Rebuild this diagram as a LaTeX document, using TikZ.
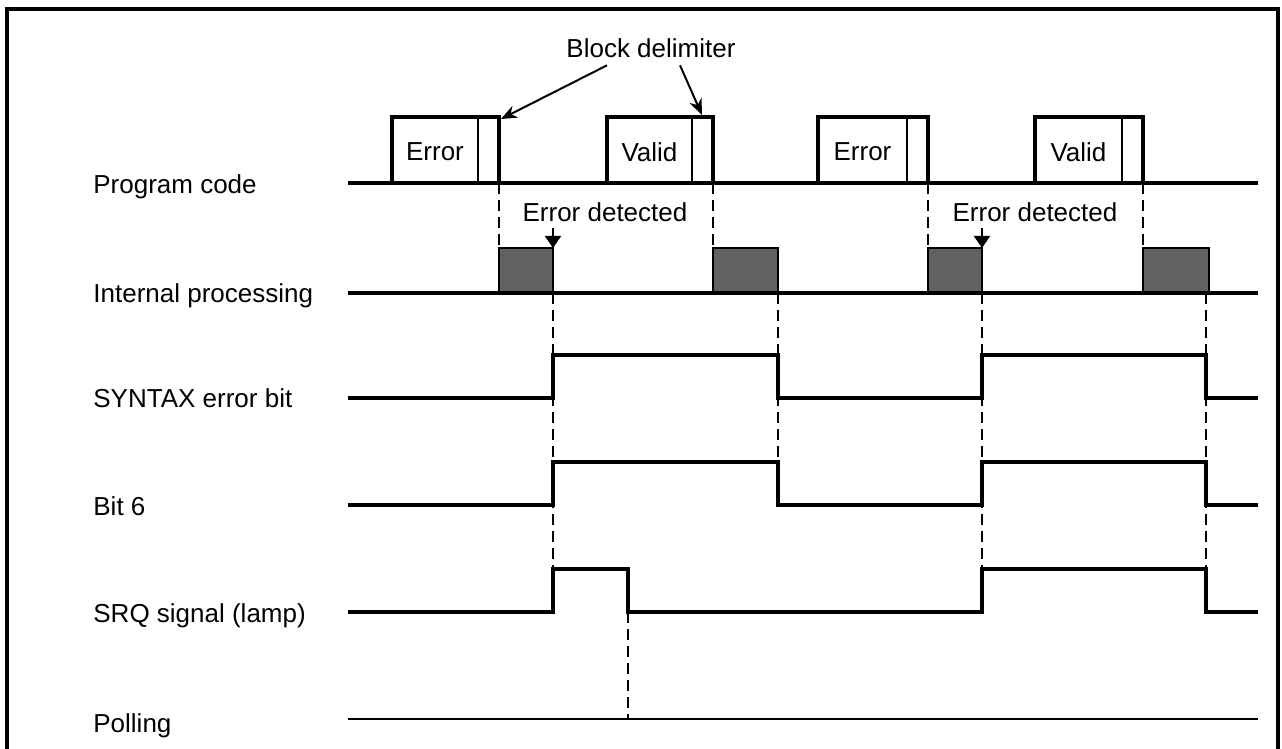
\documentclass[tikz,border=0pt]{standalone}
\usepackage{fontspec}
\setmainfont{Liberation Sans}
\usetikzlibrary{arrows.meta,positioning}

\begin{document}
\begin{tikzpicture}[
  x=0.5pt,y=-0.5pt,
  font=\fontsize{13}{15}\selectfont,
  frame/.style={line width=2pt},
  sig/.style={line width=2pt,line join=miter},
  poll/.style={line width=1pt},
  cell/.style={line width=1.8pt},
  guide/.style={line width=1pt,dash pattern=on 5.5pt off 3pt},
  busy/.style={draw=black,line width=1pt,fill=black!62},
  lbl/.style={anchor=base west,inner sep=0pt},
  note/.style={anchor=base},
  arrow/.style={-{Stealth[length=8pt,width=6.5pt]},line width=1pt},
  hit/.style={-{Triangle[length=6pt,width=8pt]},line width=1pt}
]
\useasboundingbox (0,0) rectangle (1282,749);
\draw[frame] (7,749) -- (7,9) -- (1278,9) -- (1278,749);

% row labels
\node[lbl] (lcode) at (93,194) {Program code};
\node[lbl] (lproc) at (93,303) {Internal processing};
\node[lbl] (lsyn)  at (93,408) {SYNTAX error bit};
\node[lbl] (lbit)  at (93,515) {Bit 6};
\node[lbl] (lsrq)  at (93,622) {SRQ signal (lamp)};
\node[lbl] (lpoll) at (93,732) {Polling};

% program code blocks
\draw[sig] (348,183) -- (1258,183);
\foreach \a/\b/\t [count=\i] in {392/499/Error,607/713/Valid,818/928/Error,1035/1143/Valid}{
  \draw[cell] (\a,183) |- (\b,117) -- (\b,183);
  \draw[line width=1pt] (\b-21,117) -- (\b-21,183);
  \node (blk\i) at ({(\a+\b-21)/2},152) {\t};
}

% internal processing
\foreach \a/\b in {499/553,713/778,928/982,1143/1209}
  \filldraw[busy] (\a,293) rectangle (\b,248);
\draw[sig] (348,293) -- (1258,293);

% status signals
\draw[sig] (348,398) -| (553,355) -| (778,398) -| (982,355) -| (1206,398) -- (1258,398);
\draw[sig] (348,505) -| (553,462) -| (778,505) -| (982,462) -| (1206,505) -- (1258,505);
\draw[sig] (348,612) -| (553,569) -| (628,612) -| (982,569) -| (1206,612) -- (1258,612);
\draw[poll] (348,719) -- (1258,719);

% timing guides
\foreach \x in {499,713,928,1143}
  \draw[guide] (\x,183) -- (\x,248);
\draw[guide] (553,293) -- (553,569);
\draw[guide] (778,293) -- (778,505);
\draw[guide] (982,293) -- (982,569);
\draw[guide] (1206,293) -- (1206,612);
\draw[guide] (628,612) -- (628,719);

% annotations
\node[note] (delim) at (651,58) {Block delimiter};
\coordinate (tip1) at (501,119);
\coordinate (tip2) at (702,115);
\draw[arrow] ([xshift=-22pt]delim.south) -- (tip1);
\draw[arrow] ([xshift=14.5pt]delim.south) -- (tip2);

\node[note] (det1) at (605,221) {Error detected};
\node[note] (det2) at (1035,221) {Error detected};
\coordinate (hit1) at (553,248);
\coordinate (hit2) at (982,248);
\draw[hit] (hit1 |- det1.south) -- (hit1);
\draw[hit] (hit2 |- det2.south) -- (hit2);
\end{tikzpicture}
\end{document}
